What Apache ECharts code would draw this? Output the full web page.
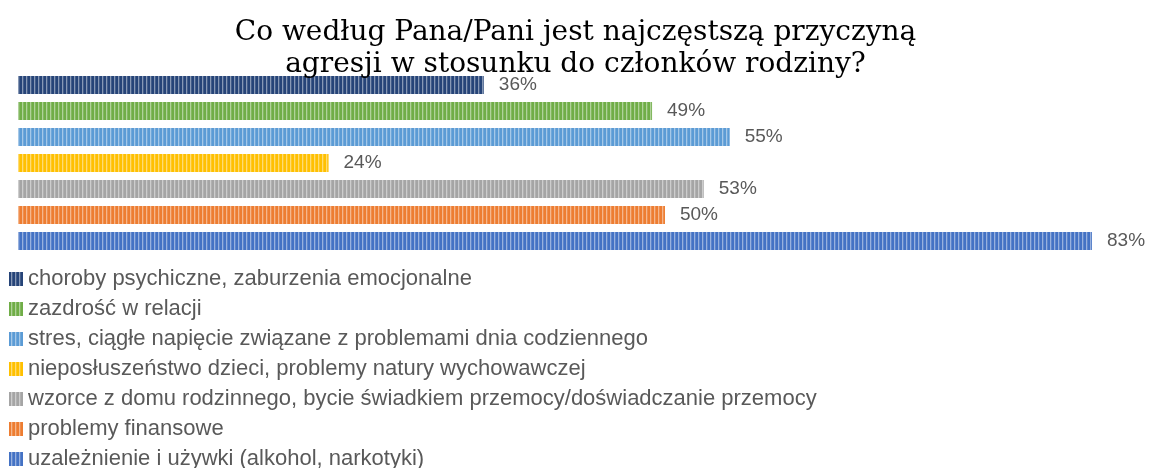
<!DOCTYPE html>
<html lang="pl" style="height: 100%">
<head>
  <meta charset="utf-8">
  <script src="https://cdn.jsdelivr.net/npm/echarts@6/dist/echarts.min.js"></script>
  <style>
    body { height: 100%; margin: 0; background: #fff; }
    #chart { width: 1151px; height: 468px; }
  </style>
</head>
<body>
  <div id="chart"></div>
  <script>
    // dane z wykresu
    var names = [
      'choroby psychiczne, zaburzenia emocjonalne',
      'zazdrość w relacji',
      'stres, ciągłe napięcie związane z problemami dnia codziennego',
      'nieposłuszeństwo dzieci, problemy natury wychowawczej',
      'wzorce z domu rodzinnego, bycie świadkiem przemocy/doświadczanie przemocy',
      'problemy finansowe',
      'uzależnienie i używki (alkohol, narkotyki)'
    ];
    var values = [36, 49, 55, 24, 53, 50, 83];
    var colors = ['#264478', '#70AD47', '#5B9BD5', '#FFC000', '#A5A5A5', '#ED7D31', '#4472C4'];

    // paski pionowe jak we wzorze z Excela
    function stripes(color) {
      var c = document.createElement('canvas');
      c.width = 4; c.height = 8;
      var ctx = c.getContext('2d');
      ctx.fillStyle = color;
      ctx.fillRect(0, 0, 4, 8);
      ctx.fillStyle = 'rgba(255,255,255,0.45)';
      ctx.fillRect(2, 0, 1.3, 8);
      return { image: c, repeat: 'repeat' };
    }

    var series = names.map(function (n, i) {
      var d = names.map(function (x, j) { return j === i ? values[i] : '-'; });
      return {
        name: n, type: 'bar', stack: 'all', data: d, barWidth: 18,
        itemStyle: { color: stripes(colors[i]) },
        label: {
          show: true, position: 'right', distance: 15, formatter: '{c}%',
          color: '#595959', fontSize: 19, fontFamily: 'Liberation Sans'
        }
      };
    });

    var chart = echarts.init(document.getElementById('chart'));
    chart.setOption({
      animation: false,
      title: {
        text: 'Co według Pana/Pani jest najczęstszą przyczyną\nagresji w stosunku do członków rodziny?',
        left: 'center', top: 12,
        textStyle: { fontFamily: 'DejaVu Serif', fontWeight: 'normal', fontSize: 28, color: '#000', lineHeight: 32 }
      },
      legend: {
        orient: 'vertical', left: 9, top: 268, height: 240, itemGap: 8, padding: 0,
        icon: 'rect', itemWidth: 14, itemHeight: 14,
        textStyle: { color: '#595959', fontSize: 22, fontFamily: 'Liberation Sans' },
        data: names
      },
      grid: { left: 18, width: 1074, top: 72, height: 182 },
      xAxis: { type: 'value', min: 0, max: 83, show: false },
      yAxis: { type: 'category', data: names, inverse: true, show: false },
      series: series
    });
  </script>
</body>
</html>
